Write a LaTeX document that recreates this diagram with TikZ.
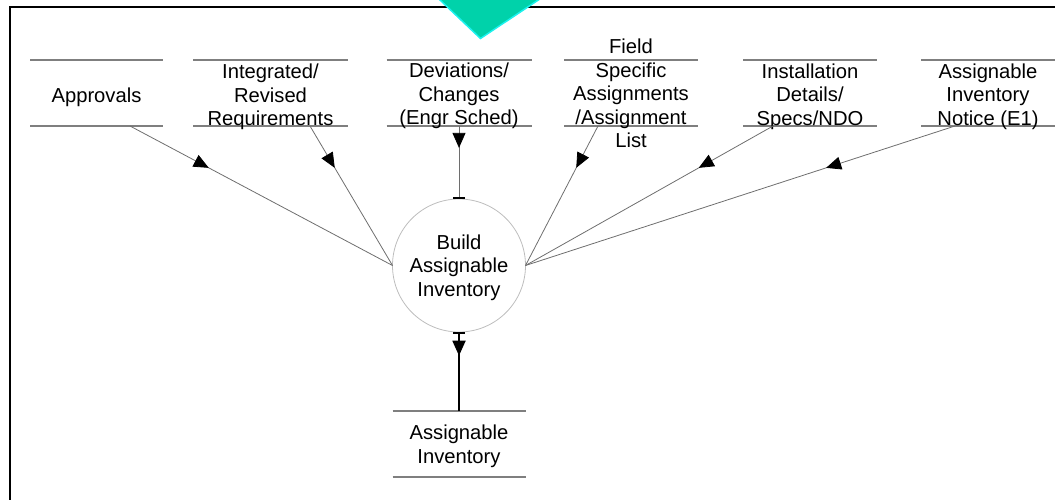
\documentclass[tikz,border=0pt]{standalone}
\usepackage{fontspec}
\setmainfont{Liberation Sans}
\usetikzlibrary{arrows.meta,decorations.markings}
\definecolor{storegray}{HTML}{7F7F7F}
\definecolor{flowgray}{HTML}{6E6E6E}
\definecolor{circgray}{HTML}{BDBDBD}
\definecolor{tealfill}{HTML}{00D2AA}
\definecolor{tealedge}{HTML}{1CF2EE}
\begin{document}
\begin{tikzpicture}[x=1pt,y=-1pt,
  store/.style={rectangle, inner sep=0pt, outer sep=0pt, minimum height=66pt, minimum width=#1},
  storeline/.style={draw=storegray, line width=1.8pt},
  txt/.style={align=center, font=\fontsize{20.2}{23.5}\selectfont, text=black, inner sep=0pt},
  process/.style={circle, draw=circgray, line width=0.8pt, minimum size=133pt, inner sep=0pt, outer sep=0pt},
  flowhead/.style={postaction={decorate}, decoration={markings,
      mark=at position #1 with {\arrow{Triangle[length=15pt,width=13pt,color=black]}}}},
  flow/.style={draw=flowgray, line width=0.8pt, flowhead=0.3},
  frame/.style={draw=black, line width=2pt},
]
\useasboundingbox (0,0) rectangle (1055,500);
\clip (0,0) rectangle (1055,500);

% outer frame (runs off the right and bottom edges)
\draw[frame] (10,520) -- (10,7) -- (1080,7);

% pointer shape entering from the top
\filldraw[fill=tealfill, draw=tealedge, line width=1.5pt]
  (435.8,-4) -- (480.5,38.5) -- (544.3,-4) -- cycle;

% data stores
\node[store=133] (appr) at (96.5,93) {};
\node[store=155] (intg) at (270.5,93) {};
\node[store=145] (devi) at (459,93) {};
\node[store=134] (fld)  at (631,93) {};
\node[store=134] (inst) at (810,93) {};
\node[store=134] (note) at (988,93) {};
\node[store=133] (outs) at (459,444) {};
\foreach \s in {appr,intg,devi,fld,inst,note,outs}
  \draw[storeline] (\s.north west) -- (\s.north east)
                   (\s.south west) -- (\s.south east);

% store labels
\node[txt, yshift=-4pt] (appr-t) at (appr) {Approvals};
\node[txt, yshift=-4pt] (intg-t) at (intg) {Integrated/\\Revised\\Requirements};
\node[txt, yshift=-3pt] (devi-t) at (devi) {Deviations/\\Changes\\(Engr Sched)};
\node[txt, yshift=-0.5pt] (fld-t)  at (fld)  {Field\\Specific\\Assignments\\/Assignment\\List};
\node[txt, yshift=-3.5pt] (inst-t) at (inst) {Installation\\Details/\\Specs/NDO};
\node[txt, yshift=-3.5pt] (note-t) at (note) {Assignable\\Inventory\\Notice (E1)};
\node[txt, yshift=-2.5pt] (outs-t) at (outs) {Assignable\\Inventory};

% process
\node[process] (proc) at (459,265.5) {};
\node[txt, yshift=-2pt] (proc-t) at (proc) {Build\\Assignable\\Inventory};

% outlet points on the store bottoms
\coordinate (appr-o) at ([xshift=33.5pt]appr.south);
\coordinate (intg-o) at ([xshift=39.5pt]intg.south);
\coordinate (fld-o)  at ([xshift=-33pt]fld.south);
\coordinate (inst-o) at ([xshift=-37pt]inst.south);
\coordinate (note-o) at ([xshift=-33pt]note.south);

% input flows
\draw[flow] (appr-o) -- (proc.west);
\draw[flow] (intg-o) -- (proc.west);
\draw[flow] (fld-o)  -- (proc.east);
\draw[flow] (inst-o) -- (proc.east);
\draw[flow] (note-o) -- (proc.east);
\draw[flow, -{Bar[width=12pt,line width=1.6pt,color=black]}] (devi.south) -- (proc.north);

% output flow
\draw[draw=black, line width=1.8pt, flowhead=0.3, {Bar[width=12pt]}-] (proc.south) -- (outs.north);
\end{tikzpicture}
\end{document}
